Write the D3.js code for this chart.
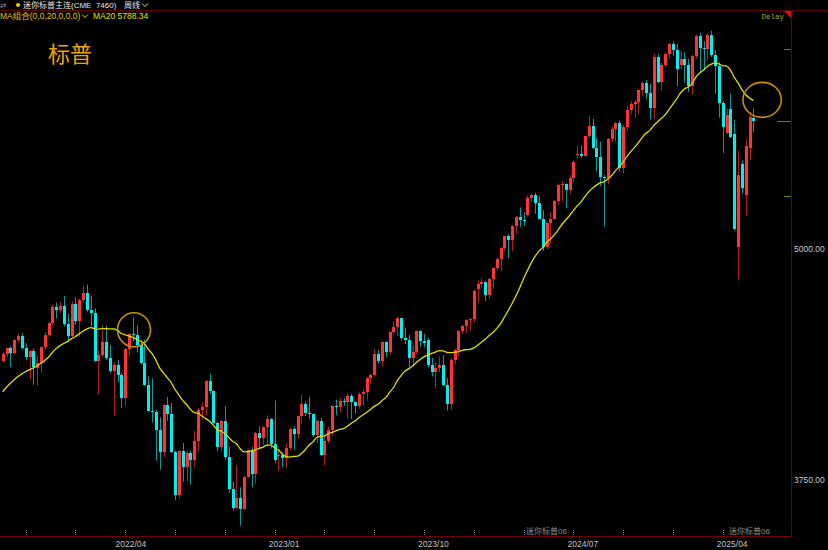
<!DOCTYPE html>
<html><head><meta charset="utf-8">
<script src="https://cdn.jsdelivr.net/npm/d3@7/dist/d3.min.js"></script>
<style>
html,body{margin:0;padding:0;background:#000;overflow:hidden;}
svg{display:block;}
text{white-space:pre;}
</style></head><body>
<svg id="chart" width="828" height="550"></svg>
<script>
// ---- data (weekly candles, 迷你标普主连) ----
const startWeek = "2021-08-02";
const endWeek = "2025-05-05";
const priorCloses = [3970,4015,4125,4180,4175,4175,4228,4170,4150,4198,4225,4242,4160,4275,4347,4365,4322,4405,4390];
const opens = [
4395,4430,4462,4437,4510,4530,4462,4415,4447,4358,4385,4468,4535,4600,4685,4672,4690,4592,4530,4705,4612,4722,
4762,4672,4655,4395,4425,4495,4410,4340,4375,4320,4195,4460,4540,4535,4482,4385,4265,4125,4120,4020,3900,4155,4105,3900,3670,3905,3820,3895,3860,3960,4130,4145,4285,4230,4060,3930,4070,3875,3700,3600,3650,3595,3765,3915,3780,4005,3975,4035,4080,3945,3880,3885,
3870,3925,4025,4000,4095,4160,4115,4105,3995,4070,3885,3960,4020,4150,4145,4180,4170,4205,4170,4150,4215,4225,4300,4320,4430,4395,4495,4440,4550,4580,4625,4520,4505,4410,4445,4555,4500,4510,4375,4335,4355,4375,4265,4160,4400,4455,4555,4585,4615,4620,4785,4810,
4820,4750,4835,4895,4945,5005,5068,5050,5125,5175,5155,5185,5275,5290,5250,5165,5010,5140,5165,5260,5345,5350,5320,5385,5510,5515,5505,5610,5665,5545,5500,5390,5385,5595,5650,5680,5440,5660,5750,5785,5795,5860,5900,5845,5765,6040,5905,5995,6055,6110,6075,5995,6030,
5995,5880,6045,6150,6090,6080,6160,6050,5990,5790,5630,5755,5620,5010,5460,5290,5546,5710];
const highs = [
4440,4465,4475,4512,4540,4545,4490,4455,4462,4420,4475,4550,4605,4700,4710,4715,4745,4650,4715,4740,4730,4800,
4808,4745,4680,4450,4590,4585,4480,4390,4400,4330,4465,4545,4630,4590,4510,4510,4310,4300,4130,4090,4160,4200,4165,3910,3910,3950,3910,3910,4015,4140,4170,4290,4325,4235,4065,4075,4150,3930,3740,3830,3710,3775,3920,3930,4010,4040,4040,4100,4085,4180,3920,3900,
3950,4030,4040,4100,4210,4175,4200,4110,4075,4085,3990,4040,4155,4185,4195,4195,4220,4215,4175,4225,4240,4305,4325,4460,4455,4500,4500,4555,4610,4635,4630,4575,4535,4480,4560,4560,4540,4520,4410,4390,4420,4425,4300,4410,4460,4560,4590,4620,4625,4780,4830,4840,
4825,4845,4900,4955,5010,5070,5080,5130,5180,5225,5200,5290,5300,5305,5285,5210,5145,5200,5265,5355,5370,5355,5400,5480,5560,5560,5615,5720,5705,5600,5580,5400,5600,5660,5690,5695,5670,5775,5800,5805,5865,5905,5915,5895,6055,6055,6005,6065,6115,6125,6110,6070,6065,
6030,6050,6160,6170,6125,6165,6180,6075,6010,5800,5760,5840,5700,5530,5480,5590,5740,5760];
const lows = [
4385,4415,4360,4430,4495,4455,4400,4295,4265,4260,4330,4455,4525,4590,4625,4655,4580,4495,4520,4590,4525,4710,
4660,4580,4390,4212,4415,4400,4330,4100,4280,4140,4150,4420,4500,4440,4375,4260,4120,4060,3855,3805,3875,4070,3895,3640,3650,3740,3745,3725,3820,3905,4075,4100,4215,4050,3905,3905,3860,3680,3585,3590,3502,3590,3760,3710,3730,3920,3940,3930,3920,3840,3800,3820,
3815,3910,3915,3975,4055,4095,4080,3985,3945,3880,3830,3950,3990,4100,4115,4150,4085,4080,4110,4135,4150,4180,4270,4310,4380,4365,4415,4430,4535,4530,4505,4485,4360,4365,4430,4470,4470,4360,4310,4250,4335,4260,4125,4130,4375,4420,4540,4545,4560,4600,4710,4790,
4720,4730,4785,4880,4880,4990,4950,4990,5080,5120,5125,5175,5255,5190,5160,4990,5000,5030,5160,5240,5260,5220,5300,5360,5490,5490,5500,5600,5540,5420,5340,5120,5350,5580,5580,5420,5410,5640,5730,5710,5730,5830,5810,5700,5705,5895,5855,5985,6030,6045,5880,5975,5900,
5850,5835,6030,5960,5970,6020,6040,5840,5710,5520,5620,5600,5100,4832,5300,5180,5480,5630];
const closes = [
4430,4462,4437,4510,4530,4462,4415,4447,4360,4385,4468,4535,4600,4685,4672,4690,4592,4530,4705,4612,4722,4762,
4672,4655,4395,4425,4495,4410,4340,4375,4320,4195,4460,4540,4535,4482,4385,4265,4125,4120,4020,3900,4155,4105,3900,3670,3905,3820,3895,3860,3960,4130,4145,4285,4230,4060,3930,4070,3875,3700,3600,3650,3595,3765,3915,3780,4005,3975,4035,4080,3945,3860,3885,3870,
3925,4025,4000,4095,4160,4115,4105,3995,4070,3885,3960,4020,4150,4145,4180,4170,4205,4170,4150,4215,4225,4300,4320,4430,4395,4495,4440,4550,4580,4625,4520,4505,4410,4445,4555,4500,4490,4375,4335,4355,4375,4265,4160,4400,4455,4555,4585,4615,4620,4775,4810,4820,
4750,4835,4895,4945,5005,5068,5050,5125,5175,5155,5150,5275,5290,5250,5165,5010,5140,5165,5260,5345,5350,5320,5385,5470,5515,5505,5610,5665,5545,5500,5390,5385,5595,5650,5680,5440,5660,5750,5785,5795,5860,5900,5845,5765,6040,5905,5995,6055,6110,6075,5975,6030,5995,
5880,6045,6150,6090,6080,6160,6050,5990,5790,5660,5725,5605,5110,5400,5330,5555,5714,5695];

const axisLabelText = ["2022/04","2023/01","2023/10","2024/07","2025/04"];
const axisLabelWeeks = ["2022-03-28","2023-01-02","2023-10-02","2024-07-01","2025-03-31"];
const minorTickWeeks = ["2021-09-13","2021-12-13","2022-03-14","2022-06-13","2022-09-12","2022-12-12","2023-03-13","2023-06-12","2023-09-11","2023-12-11","2024-03-11","2024-06-10","2024-09-09","2024-12-09","2025-03-10"];
const priceTicks = [5000, 3750];
const markerLevels = [6082, 5693, 5287];
const headerTitle = "迷你标普主连(CME  7460)";
const headerPeriod = "周线";
const maGroup = "MA组合(0,0,20,0,0,0)";
const maLabel = "MA20 5788.34";
const bigTitle = "标普";
const rollNotes = [{week:"2024-04-22", text:"迷你标普06"},{week:"2025-04-28", text:"迷你标普06"}];
const circleMarks = [{week:"2022-03-30", price:4563, rx:16.5, ry:17},{week:"2025-05-21", price:5807, rx:19.2, ry:17.5}];

// ---- layout ----
const W = 828, H = 550;
const plot = {left:0, right:791, top:10, bottom:536};
const parse = d3.timeParse("%Y-%m-%d");
const weeks = d3.timeMonday.range(parse(startWeek), d3.timeDay.offset(parse(endWeek), 1));
const key = d => d3.timeFormat("%Y-%m-%d")(d);

const step = 3.83;
const x = d3.scaleBand().domain(weeks.map(key)).range([2.7 - step/2, 2.7 - step/2 + step*weeks.length]).padding(0);
const cx = k => x(k) + x.bandwidth()/2;
const xi = i => cx(key(weeks[i]));
const xDate = d3.scaleTime().domain([weeks[0], weeks[weeks.length-1]]).range([xi(0), xi(weeks.length-1)]);
const y = d3.scaleLinear().domain([3750, 5000]).range([480, 249]);

const svg = d3.select("#chart");
svg.append("rect").attr("width",W).attr("height",H).attr("fill","#000");

const UP = "#ff3333", DN = "#00f0f0", UPW = "#b02020", DNW = "#0a9a9a";

svg.append("clipPath").attr("id","pc").append("rect")
  .attr("x",plot.left).attr("y",plot.top+1).attr("width",plot.right-plot.left).attr("height",plot.bottom-plot.top-1);
const g = svg.append("g").attr("clip-path","url(#pc)");

// MA20
const all = priorCloses.concat(closes);
const ma = closes.map((c,i)=> d3.mean(all.slice(i, i+20)));

// candles
const cand = g.append("g");
closes.forEach((c,i)=>{
  const o = opens[i], up = c >= o;
  const xc = Math.round(xi(i));
  cand.append("line").attr("x1",xc+0.5).attr("x2",xc+0.5)
    .attr("y1",y(highs[i])).attr("y2",y(lows[i]))
    .attr("stroke", up?UPW:DNW).attr("stroke-width",1);
  const y1 = y(Math.max(o,c)), y2 = y(Math.min(o,c));
  cand.append("rect").attr("x",xc-1).attr("width",3)
    .attr("y",y1).attr("height",Math.max(1,y2-y1))
    .attr("fill", up?UP:DN).attr("shape-rendering","crispEdges");
});

// MA line
g.append("path").datum(ma)
  .attr("d", d3.line().x((d,i)=>xi(i)).y(d=>y(d)).curve(d3.curveMonotoneX))
  .attr("fill","none").attr("stroke","#dede00").attr("stroke-width",1.3);

// circles
circleMarks.forEach(m=>{
  svg.append("ellipse").attr("cx", xDate(parse(m.week))).attr("cy", y(m.price))
    .attr("rx", m.rx).attr("ry", m.ry)
    .attr("fill","none").attr("stroke","#c8900a").attr("stroke-width",1.6);
});

// borders
svg.append("line").attr("x1",0).attr("x2",W).attr("y1",10.5).attr("y2",10.5).attr("stroke","#5a0000");
svg.append("line").attr("x1",plot.right+0.5).attr("x2",plot.right+0.5).attr("y1",10).attr("y2",plot.bottom+0.5).attr("stroke","#6e0000");
svg.append("line").attr("x1",0).attr("x2",plot.right+1).attr("y1",plot.bottom+0.5).attr("y2",plot.bottom+0.5).attr("stroke","#6e0000");
svg.append("path").attr("d",`M${plot.right-7},${plot.top+1}L${plot.right},${plot.top+1}L${plot.right},${plot.top+8}Z`).attr("fill","#e01010");

// right price axis
priceTicks.forEach(p=>{
  svg.append("text").attr("x",794).attr("y",y(p)).attr("dy","0.35em")
    .attr("font-family","Liberation Sans, Arial, sans-serif").attr("font-size",8.5)
    .attr("fill","#c8c8c8").text(p.toFixed(2));
});
markerLevels.forEach((p,i)=>{
  svg.append("line").attr("x1", i==1?777:784).attr("x2",791).attr("y1",Math.round(y(p))+0.5).attr("y2",Math.round(y(p))+0.5)
    .attr("stroke","#7a7a00").attr("stroke-width",1);
});

// bottom axis
const xAxisG = svg.append("g");
minorTickWeeks.forEach(w=>{
  const xx = Math.round(xDate(parse(w)))+0.5;
  xAxisG.append("line").attr("x1",xx).attr("x2",xx).attr("y1",530).attr("y2",536)
    .attr("stroke","#8a8a8a").attr("stroke-dasharray","1,1");
});
axisLabelWeeks.forEach((w,i)=>{
  xAxisG.append("text").attr("x", xDate(parse(w))-2).attr("y",544).attr("dy","0.35em")
    .attr("text-anchor","middle").attr("font-family","Liberation Sans, Arial, sans-serif")
    .attr("font-size",8.5).attr("fill","#c0c0c0").text(axisLabelText[i]);
});
rollNotes.forEach(r=>{
  svg.append("text").attr("x", xDate(parse(r.week))).attr("y",531.5).attr("dy","0.35em")
    .attr("text-anchor","middle").attr("font-family","Liberation Sans, Noto Sans CJK SC, sans-serif")
    .attr("font-size",8).attr("fill","#8c8c8c").text(r.text);
});

// header
const hf = "Liberation Sans, Noto Sans CJK SC, sans-serif";
svg.append("text").attr("x",0).attr("y",5.5).attr("dy","0.35em").attr("font-size",7.5).attr("fill","#9a9a9a").attr("font-family","DejaVu Sans, sans-serif").text("⇄");
svg.append("circle").attr("cx",18).attr("cy",5).attr("r",2).attr("fill","#e8d000");
svg.append("text").attr("x",23).attr("y",5.5).attr("dy","0.35em").attr("font-size",8).attr("fill","#e6e6e6").attr("font-family",hf).text(headerTitle);
svg.append("text").attr("x",124).attr("y",5.5).attr("dy","0.35em").attr("font-size",8).attr("fill","#e6e6e6").attr("font-family",hf).text(headerPeriod);
svg.append("path").attr("d","M142,3.5L145,6.5L148,3.5").attr("fill","none").attr("stroke","#d0d0d0");
svg.append("text").attr("x",0).attr("y",16).attr("dy","0.35em").attr("font-size",8.5).attr("fill","#e0c020").attr("font-family",hf).text(maGroup);
svg.append("path").attr("d","M82,14.5L85,17.5L88,14.5").attr("fill","none").attr("stroke","#e0c020");
svg.append("text").attr("x",93).attr("y",16).attr("dy","0.35em").attr("font-size",8.5).attr("fill","#e8e000").attr("font-family",hf).text(maLabel);
svg.append("text").attr("x",784).attr("y",16).attr("dy","0.35em").attr("text-anchor","end").attr("font-size",7.5).attr("fill","#a8a830").attr("font-family","Liberation Mono, monospace").text("Delay");

// big title
svg.append("text").attr("x",48).attr("y",54).attr("dy","0.35em").attr("font-size",22).attr("fill","#eaa400")
  .attr("font-family","Noto Sans CJK SC, sans-serif").text(bigTitle);
</script>
</body></html>
